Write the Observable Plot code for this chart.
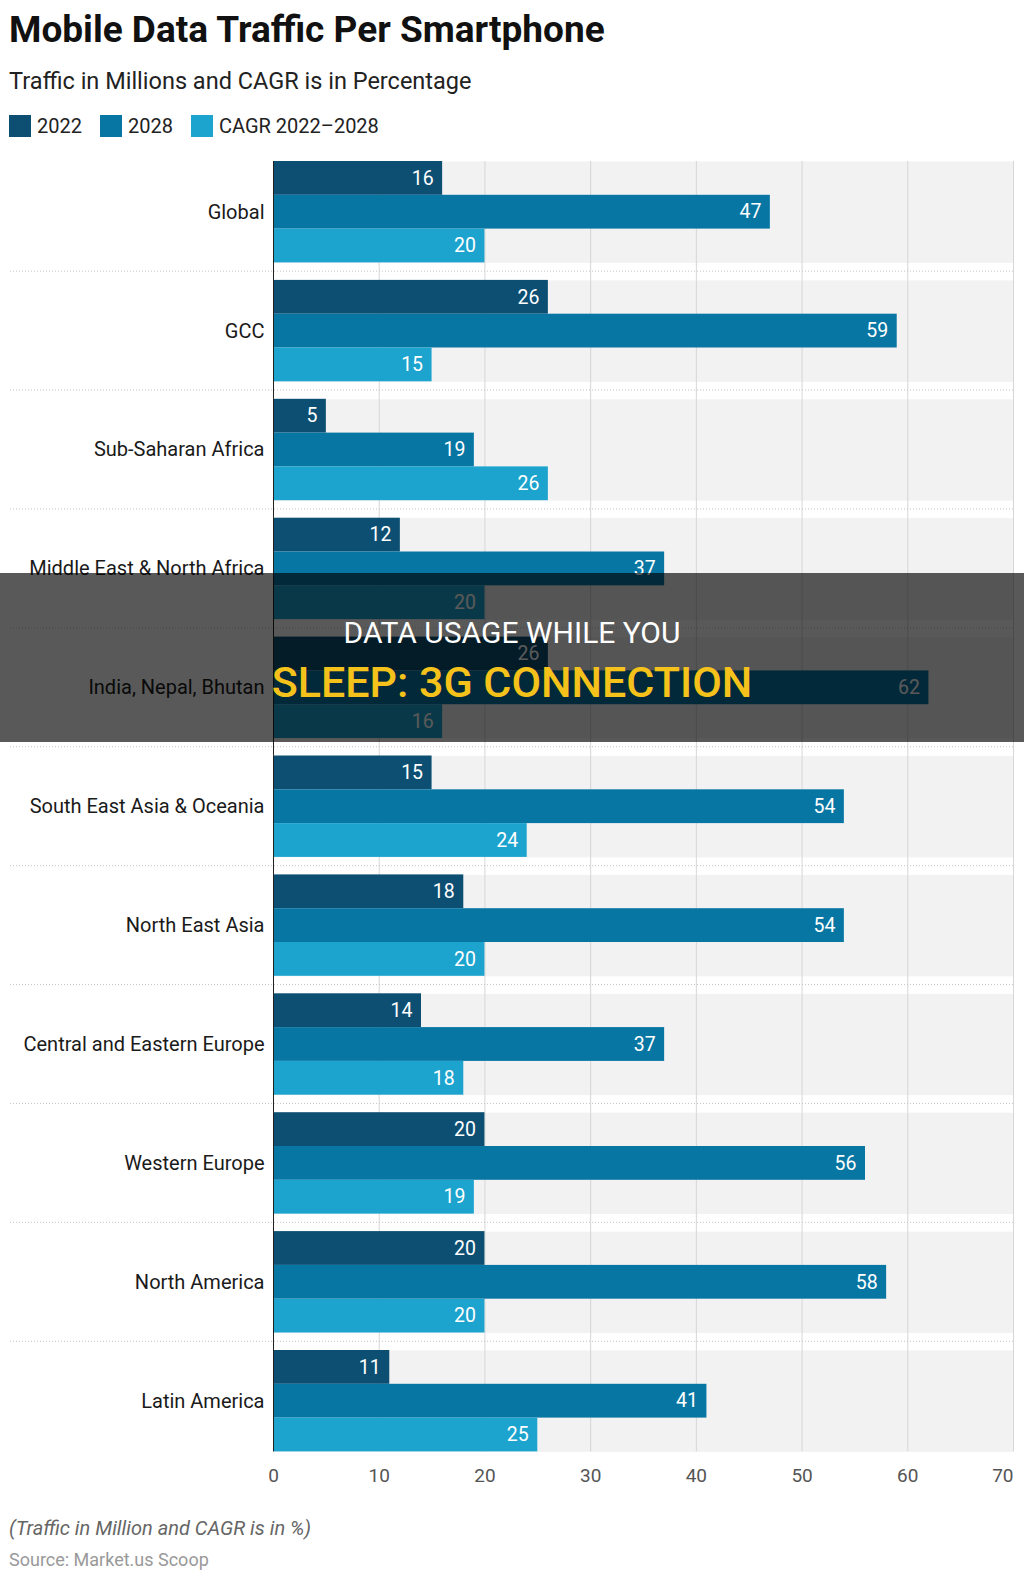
<!DOCTYPE html>
<html><head><meta charset="utf-8">
<script src="https://cdn.jsdelivr.net/npm/d3@7"></script>
<script src="https://cdn.jsdelivr.net/npm/@observablehq/plot@0.6"></script>
<style>
body{margin:0;background:#fff;font-family:Roboto,"Noto Sans",sans-serif;}
#page{position:relative;width:1024px;height:1581px;overflow:hidden;background:#fff;}
#title{position:absolute;left:9px;top:11px;font-size:37px;line-height:37px;font-weight:700;color:#111;white-space:nowrap;}
#subtitle{position:absolute;left:9px;top:69px;font-size:23.5px;line-height:24px;color:#222;white-space:nowrap;}
#legend{position:absolute;left:9px;top:115px;display:flex;align-items:center;font-size:20px;line-height:22px;color:#222;}
#legend .item{display:flex;align-items:center;margin-right:18px;}
#legend .sw{width:22px;height:22px;margin-right:6px;}
#chart{position:absolute;left:0;top:150px;}
#note{position:absolute;left:9px;top:1517px;font-size:20px;line-height:22px;font-style:italic;color:#666;white-space:nowrap;}
#source{position:absolute;left:9px;top:1550px;font-size:18px;line-height:20px;color:#999;white-space:nowrap;}
#banner{position:absolute;left:0;top:573px;width:1024px;height:169px;background:rgba(0,0,0,0.65);}
#banner .l1{position:absolute;left:0;width:1024px;text-align:center;font-size:30px;line-height:32px;color:#fff;}
#banner .l2{position:absolute;left:0;width:1024px;text-align:center;font-size:43px;line-height:46px;font-weight:500;color:#f5c21b;}
</style></head><body>
<div id="page">
  <div id="title">Mobile Data Traffic Per Smartphone</div>
  <div id="subtitle">Traffic in Millions and CAGR is in Percentage</div>
  <div id="legend"></div>
  <div id="chart"></div>
  <div id="note">(Traffic in Million and CAGR is in %)</div>
  <div id="source">Source: Market.us Scoop</div>
  <div id="banner"><div class="l1" style="top:44px">DATA USAGE WHILE YOU</div><div class="l2" style="top:86px">SLEEP: 3G CONNECTION</div></div>
</div>
<script>
const regions = ["Global","GCC","Sub-Saharan Africa","Middle East & North Africa","India, Nepal, Bhutan","South East Asia & Oceania","North East Asia","Central and Eastern Europe","Western Europe","North America","Latin America"];
const series = ["2022","2028","CAGR 2022–2028"];
const values2022 = [16,26,5,12,26,15,18,14,20,20,11];
const values2028 = [47,59,19,37,62,54,54,37,56,58,41];
const valuesCagr = [20,15,26,20,16,24,20,18,19,20,25];
const colors = ["#0d4f73","#0876a3","#1ca3ce"];
const xTicks = [0,10,20,30,40,50,60,70];
const gridTicks = [10,20,30,40,50,60,70];

const seriesValues = [values2022, values2028, valuesCagr];
const data = regions.flatMap((r,i) => series.map((s,j) => ({region:r, series:s, value:seriesValues[j][i]})));

// legend
const legend = document.getElementById("legend");
series.forEach((s,j) => {
  const it = document.createElement("div"); it.className = "item";
  const sw = document.createElement("div"); sw.className = "sw"; sw.style.background = colors[j];
  const tx = document.createElement("span"); tx.textContent = s;
  it.appendChild(sw); it.appendChild(tx); legend.appendChild(it);
});

const step = 118.9, gap = 17.5;
const upper = regions.slice(0,-1), last = regions.slice(-1);
const gridUpper = upper.flatMap(r => gridTicks.map(x => ({region:r, x})));
const gridLast = last.flatMap(r => gridTicks.map(x => ({region:r, x})));

const chart = Plot.plot({
  width:1024, height:1345,
  marginTop:11, marginBottom:43.6, marginLeft:273, marginRight:11,
  style:{fontFamily:"Roboto, sans-serif", background:"transparent"},
  x:{domain:[0,70]},
  y:{domain:series, padding:0, round:false, axis:null},
  fy:{domain:regions, paddingInner:gap/step, paddingOuter:0, round:false, axis:null},
  color:{domain:series, range:colors},
  marks:[
    Plot.frame({fill:"#f2f2f2", stroke:null}),
    Plot.ruleX(gridUpper, {x:"x", fy:"region", stroke:"#d6d6d6", insetBottom:-gap}),
    Plot.ruleX(gridLast, {x:"x", fy:"region", stroke:"#d6d6d6"}),
    Plot.barX(data, {x:"value", y:"series", fy:"region", fill:"series"}),
    Plot.ruleX(upper, {x:0, fy:d=>d, stroke:"#222", insetBottom:-gap}),
    Plot.ruleX(last, {x:0, fy:d=>d, stroke:"#222"}),
    Plot.text(data, {x:"value", y:"series", fy:"region", text:d=>String(d.value), textAnchor:"end", dx:-9, fill:"white", fontSize:19.5}),
    Plot.axisX(xTicks.slice(0,-1), {tickSize:0, tickPadding:17, fontSize:19, color:"#555", label:null}),
    Plot.axisX(xTicks.slice(-1), {tickSize:0, tickPadding:17, fontSize:19, color:"#555", label:null, textAnchor:"end"}),
    Plot.axisFy({anchor:"left", tickSize:0, tickPadding:9, fontSize:20, color:"#1a1a1a", label:null})
  ]
});
document.getElementById("chart").appendChild(chart);

// dotted separators between region groups
const fy = chart.scale("fy");
const svg = d3.select(chart);
const sep = svg.append("g");
regions.slice(1).forEach(r => {
  const yy = fy.apply(r) - (fy.step - fy.bandwidth)/2;
  sep.append("line").attr("x1",10).attr("x2",1013).attr("y1",yy).attr("y2",yy)
    .attr("stroke","#c4c4c4").attr("stroke-dasharray","1,2");
});
</script>
</body></html>
